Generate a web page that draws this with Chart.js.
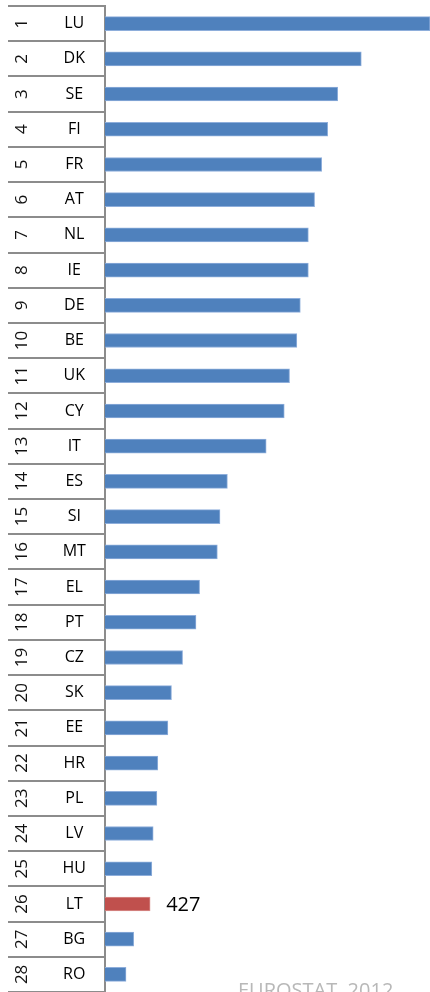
<!DOCTYPE html>
<html>
<head>
<meta charset="utf-8">
<script src="https://cdn.jsdelivr.net/npm/chart.js@4.4.1/dist/chart.umd.min.js"></script>
<style>
  html, body { margin: 0; padding: 0; background: #ffffff; overflow: hidden; }
  #wrap { position: relative; width: 430px; height: 992px; }
</style>
</head>
<body>
<div id="wrap"><canvas id="c"></canvas></div>
<script>
const categories = ['LU','DK','SE','FI','FR','AT','NL','IE','DE','BE','UK','CY','IT','ES',
                    'SI','MT','EL','PT','CZ','SK','EE','HR','PL','LV','HU','LT','BG','RO'];
const ranks = ['1','2','3','4','5','6','7','8','9','10','11','12','13','14',
               '15','16','17','18','19','20','21','22','23','24','25','26','27','28'];
const values = [3075, 2425, 2202, 2107, 2050, 1983, 1924, 1924, 1848, 1815, 1746, 1696, 1525, 1158,
                1088, 1063, 895, 861, 734, 629, 595, 500, 491, 456, 443, 427, 272, 199];
const highlighted = ['LT'];
const labelled = ['LT'];
const xMax = 3075;
const sourceNote = 'EUROSTAT, 2012';

const BLUE = '#4F81BD', RED = '#C0504D';
const barColors = categories.map(c => highlighted.includes(c) ? RED : BLUE);
const borderColors = categories.map(c => highlighted.includes(c) ? '#d98f8d' : '#8eaedb');

const overlay = {
  id: 'overlay',
  afterDraw(chart) {
    const ctx = chart.ctx;
    const y = chart.scales.y, x = chart.scales.x;
    ctx.save();
    // rank numbers, rotated
    ctx.fillStyle = '#111';
    ctx.font = '17px "Open Sans"';
    ctx.textAlign = 'center';
    ctx.textBaseline = 'middle';
    ranks.forEach((r, i) => {
      const py = y.getPixelForValue(i);
      ctx.save();
      ctx.translate(22, py);
      ctx.rotate(-Math.PI / 2);
      ctx.fillText(r, 0, 0);
      ctx.restore();
    });
    // value labels
    ctx.font = '20px "Open Sans"';
    ctx.textAlign = 'left';
    ctx.fillStyle = '#000';
    labelled.forEach(c => {
      const i = categories.indexOf(c);
      ctx.fillText(String(values[i]), x.getPixelForValue(values[i]) + 16, y.getPixelForValue(i) + 1);
    });
    // source note
    ctx.font = '20px "Open Sans"';
    ctx.fillStyle = '#b8b8b8';
    ctx.textBaseline = 'alphabetic';
    ctx.fillText(sourceNote, 238, 997);
    ctx.restore();
  }
};

new Chart(document.getElementById('c'), {
  type: 'bar',
  data: {
    labels: categories,
    datasets: [{
      data: values,
      backgroundColor: barColors,
      borderColor: borderColors,
      borderWidth: 1,
      barThickness: 14,
      borderSkipped: 'start'
    }]
  },
  options: {
    indexAxis: 'y',
    responsive: true,
    maintainAspectRatio: false,
    animation: false,
    layout: { padding: { top: 6, bottom: -3, left: 0, right: 0 } },
    plugins: { legend: { display: false }, tooltip: { enabled: false } },
    scales: {
      x: { display: false, min: 0, max: xMax },
      y: {
        afterFit(s) { s.width = 105; },
        grid: { offset: true, drawOnChartArea: false, drawTicks: true, tickLength: 97,
                color: '#8c8c8c', lineWidth: 2 },
        border: { display: true, color: '#8c8c8c', width: 2 },
        ticks: { crossAlign: 'center', padding: -78, autoSkip: false, color: '#000',
                 font: { family: 'Open Sans', size: 16 } }
      }
    }
  },
  plugins: [overlay]
});
</script>
</body>
</html>
